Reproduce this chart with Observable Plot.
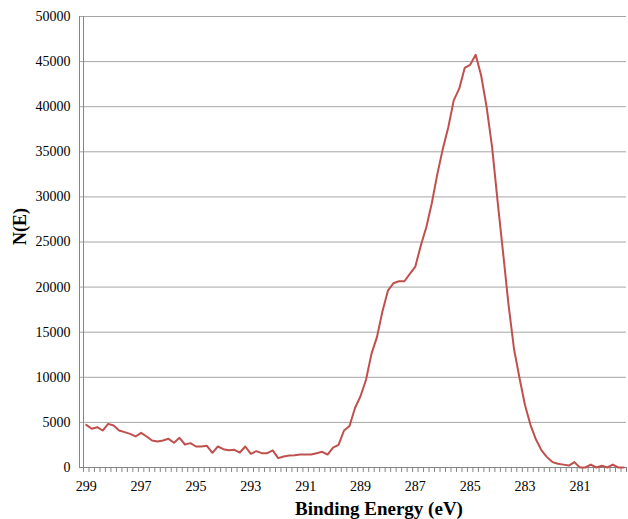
<!DOCTYPE html>
<html>
<head>
<meta charset="utf-8">
<script src="https://cdn.jsdelivr.net/npm/d3@7"></script>
<script src="https://cdn.jsdelivr.net/npm/@observablehq/plot@0.6"></script>
<style>
  html, body { margin: 0; padding: 0; background: #fff; }
  svg, svg text { font-family: "Liberation Serif", "Times New Roman", serif !important; }
</style>
</head>
<body>
<div id="chart"></div>
<script>
const energies = [
  299.0,298.8,298.6,298.4,298.2,298.0,297.8,297.6,297.4,297.2,
  297.0,296.8,296.6,296.4,296.2,296.0,295.8,295.6,295.4,295.2,
  295.0,294.8,294.6,294.4,294.2,294.0,293.8,293.6,293.4,293.2,
  293.0,292.8,292.6,292.4,292.2,292.0,291.8,291.6,291.4,291.2,
  291.0,290.8,290.6,290.4,290.2,290.0,289.8,289.6,289.4,289.2,
  289.0,288.8,288.6,288.4,288.2,288.0,287.8,287.6,287.4,287.2,
  287.0,286.8,286.6,286.4,286.2,286.0,285.8,285.6,285.4,285.2,
  285.0,284.8,284.6,284.4,284.2,284.0,283.8,283.6,283.4,283.2,
  283.0,282.8,282.6,282.4,282.2,282.0,281.8,281.6,281.4,281.2,
  281.0,280.8,280.6,280.4,280.2,280.0,279.8,279.6,279.4
];
const counts = [
  4730,4290,4470,4100,4840,4660,4100,3920,3730,3440,
  3840,3440,2990,2880,2990,3180,2740,3290,2550,2700,
  2330,2330,2400,1630,2330,2030,1920,1960,1660,2330,
  1520,1810,1590,1590,1890,1040,1220,1330,1370,1440,
  1440,1440,1590,1740,1440,2200,2500,4100,4600,6600,
  7900,9700,12600,14450,17300,19600,20430,20650,20650,21470,
  22280,24610,26640,29300,32500,35300,37700,40700,42000,44300,
  44640,45750,43460,39950,35500,29500,23800,18000,13100,9900,
  6900,4700,3100,1900,1150,600,420,320,210,600,
  0,0,330,0,200,0,330,0,0
];
const xTickLabels = [299, 297, 295, 293, 291, 289, 287, 285, 283, 281];
const yTicks = [0, 5000, 10000, 15000, 20000, 25000, 30000, 35000, 40000, 45000, 50000];

const data = energies.map((e, i) => ({E: e, N: counts[i]}));
// category boundaries (Excel-style category axis tick marks)
const boundaries = energies.map(e => e + 0.1).concat([energies[energies.length - 1] - 0.1]);

const axisGray = "#868686";
const gridGray = "#a6a6a6";
const serif = "Liberation Serif";

const chart = Plot.plot({
  width: 628,
  height: 519,
  marginLeft: 83,
  marginRight: 2,
  marginTop: 16,
  marginBottom: 52,
  style: {fontFamily: serif, fontSize: "14px", color: "#000", background: "#fff"},
  x: {domain: [299.1, 279.3]},
  y: {domain: [0, 50000]},
  marks: [
    Plot.ruleY(yTicks.slice(1), {stroke: gridGray, strokeWidth: 1, insetLeft: -4}),
    Plot.ruleY([0], {stroke: axisGray, strokeWidth: 1, insetLeft: -4}),
    Plot.ruleX([299.1], {stroke: axisGray, strokeWidth: 1}),
    Plot.ruleX([299.1], {stroke: axisGray, strokeWidth: 1, dx: -4}),
    Plot.axisY({ticks: yTicks, tickSize: 0, tickPadding: 13, tickFormat: d3.format("d"), label: null, fontSize: 14, fontFamily: serif}),
    Plot.axisX({ticks: boundaries, tickSize: 5, tickFormat: () => "", label: null, stroke: axisGray}),
    Plot.axisX({ticks: xTickLabels, tickSize: 0, tickPadding: 14, tickFormat: d3.format("d"), label: null, fontSize: 14, fontFamily: serif}),
    Plot.line(data, {x: "E", y: "N", stroke: "#c0504d", strokeWidth: 2}),
    Plot.text(["Binding Energy (eV)"], {frameAnchor: "bottom", dx: 24, dy: 47, fontSize: 19, fontWeight: "bold", fill: "#000", fontFamily: serif}),
    Plot.text(["N(E)"], {frameAnchor: "left", dx: -63, dy: 3, rotate: -90, fontSize: 18, fontWeight: "bold", fill: "#000", fontFamily: serif})
  ]
});
document.getElementById("chart").appendChild(chart);
</script>
</body>
</html>
